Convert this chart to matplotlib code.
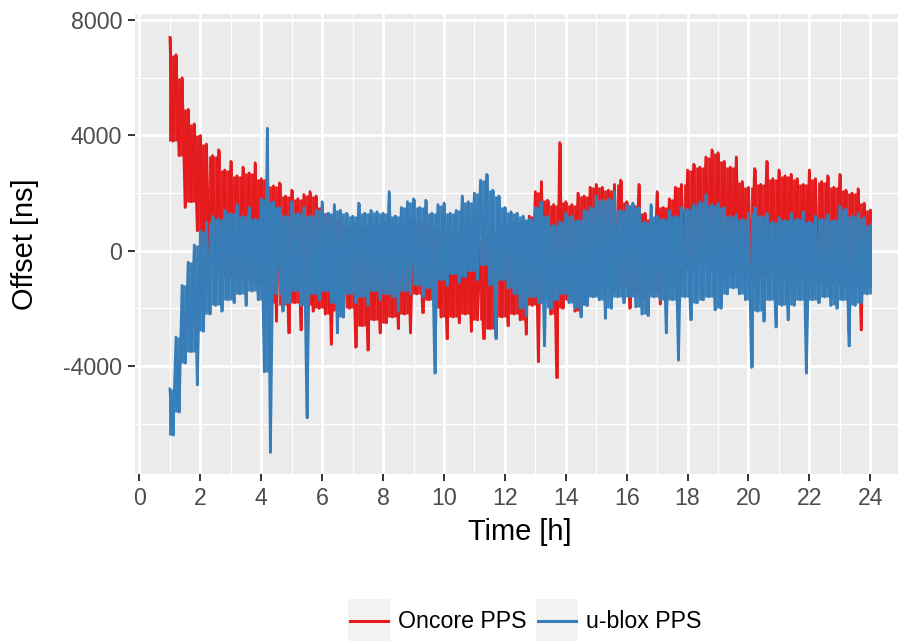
import numpy as np
import matplotlib
matplotlib.use("Agg")
import matplotlib.pyplot as plt
from matplotlib.patches import Rectangle

plt.rcParams["font.family"] = ["Liberation Sans", "DejaVu Sans"]
plt.rcParams["axes.unicode_minus"] = False
plt.rcParams["path.simplify"] = False

W, H = 898, 641

# Offsets in ns. Each receiver trace alternates between the local upper
# excursion (at 1.0, 1.2, ... 24.0 h) and the local lower excursion
# (at 1.1, 1.3, ... 23.9 h).
t_peak = np.round(np.arange(1.0, 24.01, 0.2), 1)
t_trough = np.round(t_peak[:-1] + 0.1, 1)

oncore_peak = [
    7400, 6800, 6000, 4900, 4400,   # 1 h
    4000, 3700, 3300, 3500, 2800,   # 2 h
    3100, 2600, 2900, 2700, 3050,   # 3 h
    2500, 2600, 2250, 2350, 1900,   # 4 h
    2100, 1800, 1950, 2050, 1900,   # 5 h
    1500, 1300, 1200, 1100, 900,    # 6 h
    1000, 1100, 900, 1000, 900,     # 7 h
    1100, 1000, 1200, 900, 1100,    # 8 h
    1200, 1000, 1100, 900, 800,     # 9 h
    700, 600, 500, 600, 400,        # 10 h
    500, 300, 500, 600, 800,        # 11 h
    900, 1000, 1100, 1000, 1200,    # 12 h
    2050, 2400, 1750, 1600, 3750,   # 13 h
    1700, 1600, 2000, 1900, 2200,   # 14 h
    2300, 2200, 2100, 2300, 2450,   # 15 h
    1700, 1600, 2300, 1300, 1100,   # 16 h
    2050, 1500, 1800, 2200, 2300,   # 17 h
    2800, 3000, 2900, 3250, 3500,   # 18 h
    3400, 3100, 2900, 3250, 2400,   # 19 h
    2200, 2850, 2300, 3100, 2500,   # 20 h
    2800, 2600, 2650, 2500, 2300,   # 21 h
    2800, 2500, 2400, 2600, 2200,   # 22 h
    2650, 2100, 2000, 2150, 1650,   # 23 h
    1400,
]
oncore_trough = [
    3800, 3300, 1500, 1700, 700,         # 1 h
    200, -500, -800, -900, -1000,        # 2 h
    -900, -1100, -1000, -1100, -1200,    # 3 h
    -1500, -1800, -2450, -1900, -2850,   # 4 h
    -1800, -2750, -1900, -2100, -2000,   # 5 h
    -2200, -3250, -2100, -2300, -2000,   # 6 h
    -3350, -2600, -3450, -2400, -2850,   # 7 h
    -2500, -2300, -2700, -2200, -2850,   # 8 h
    -1500, -2150, -1700, -2000, -2300,   # 9 h
    -3050, -2300, -2500, -2200, -2800,   # 10 h
    -2400, -3050, -2700, -2950, -2300,   # 11 h
    -2600, -2200, -2400, -2900, -1900,   # 12 h
    -3850, -1800, -2200, -4400, -2000,   # 13 h
    -1700, -2100, -2250, -1900, -1500,   # 14 h
    -1600, -1300, -1400, -1500, -1300,   # 15 h
    -2000, -1500, -1700, -2200, -1400,   # 16 h
    -1850, -1300, -1200, -1100, -700,    # 17 h
    -600, -800, -500, -1150, -700,       # 18 h
    -900, -1100, -800, -900, -700,       # 19 h
    -1000, -1700, -900, -1000, -800,     # 20 h
    -1000, -900, -1100, -1200, -1000,    # 21 h
    -900, -1100, -1300, -1600, -1200,    # 22 h
    -1300, -2850, -1200, -2750, -1300,   # 23 h
]

ublox_peak = [
    -4800, -3000, -1200, -400, 200,     # 1 h
    700, 1000, 1200, 1100, 1400,        # 2 h
    1300, 1600, 1200, 1500, 1100,       # 3 h
    1800, 4250, 1700, 1500, 1200,       # 4 h
    1700, 1300, 1500, 1200, 1400,       # 5 h
    1700, 1300, 1600, 1400, 1300,       # 6 h
    1200, 1650, 1300, 1400, 1350,       # 7 h
    1300, 2050, 1200, 1500, 1700,       # 8 h
    1800, 1500, 1750, 1300, 1600,       # 9 h
    1650, 1300, 1400, 1900, 1700,       # 10 h
    2000, 2450, 2650, 2100, 1900,       # 11 h
    1500, 1350, 1300, 1200, 1100,       # 12 h
    1500, 1700, 1200, 900, 1000,        # 13 h
    1300, 1200, 1050, 1400, 1500,       # 14 h
    1900, 1750, 1800, 2050, 1400,       # 15 h
    1600, 1650, 1500, 1000, 1600,       # 16 h
    1200, 1100, 1400, 1200, 1500,       # 17 h
    1450, 1600, 1700, 1950, 1600,       # 18 h
    1650, 1500, 1200, 1250, 1100,       # 19 h
    1300, 1500, 1200, 1300, 1000,       # 20 h
    1150, 1050, 1300, 1100, 1350,       # 21 h
    1000, 1200, 1100, 1250, 1050,       # 22 h
    1550, 1450, 1200, 1300, 1150,       # 23 h
    900,
]
ublox_trough = [
    -6400, -5600, -3900, -3500, -4650,   # 1 h
    -2800, -2200, -1900, -2100, -1700,   # 2 h
    -1800, -1500, -1900, -1400, -1700,   # 3 h
    -4200, -7000, -1500, -2100, -1800,   # 4 h
    -1400, -1900, -5800, -1500, -1700,   # 5 h
    -1400, -1800, -2850, -2300, -1500,   # 6 h
    -1800, -1600, -1900, -1400, -1700,   # 7 h
    -1500, -1600, -2100, -1400, -1500,   # 8 h
    -1200, -1600, -1300, -4250, -1000,   # 9 h
    -1200, -800, -1100, -900, -700,      # 10 h
    -1000, -500, -1200, -3050, -1000,    # 11 h
    -1300, -1500, -2000, -2250, -1600,   # 12 h
    -1800, -3300, -2000, -1700, -1500,   # 13 h
    -1800, -2000, -2300, -1900, -1600,   # 14 h
    -1700, -2350, -2000, -1600, -1800,   # 15 h
    -1600, -1950, -2200, -2250, -1600,   # 16 h
    -1700, -2850, -1700, -3800, -1600,   # 17 h
    -2400, -1800, -1700, -1600, -2050,   # 18 h
    -2000, -1500, -1300, -1500, -1700,   # 19 h
    -4050, -2100, -2450, -1700, -2650,   # 20 h
    -1900, -2400, -1900, -1700, -4250,   # 21 h
    -1700, -1800, -1600, -1900, -2000,   # 22 h
    -1700, -3300, -1900, -1800, -1500,   # 23 h
]

series_names = ["Oncore PPS", "u-blox PPS"]
series_colors = ["#E41A1C", "#377EB8"]


def interleave(peak, trough):
    out = np.empty(len(peak) + len(trough))
    out[0::2] = peak
    out[1::2] = trough
    return out


def span_ends(y):
    # every sample also gets a vertical stroke back towards its neighbours,
    # so the dense trace reads as a solid band like a min/max decimation
    left = np.r_[y[1], y[:-1]]
    right = np.r_[y[1:], y[-2]]
    ends = np.empty_like(y)
    ends[0::2] = np.maximum(left, right)[0::2]
    ends[1::2] = np.minimum(left, right)[1::2]
    return ends


t_all = interleave(t_peak, t_trough)
oncore = interleave(oncore_peak, oncore_trough)
ublox = interleave(ublox_peak, ublox_trough)

fig = plt.figure(figsize=(W / 100, H / 100), dpi=100)
ax = fig.add_axes([134.9 / W, 1 - 473.9 / H, (905.3 - 134.9) / W, (473.9 - 14.1) / H])
ax.set_facecolor("#EBEBEB")
for s in ax.spines.values():
    s.set_visible(False)

for k, (y, colour) in enumerate(zip([oncore, ublox], series_colors)):
    ax.vlines(t_all, y, span_ends(y), color=colour, lw=2.0, zorder=3 + k)
    ax.plot(t_all, y, color=colour, lw=2.0, zorder=3 + k)

ax.set_xlim(-0.15, 25.15)
ax.set_ylim(-7745, 8210)
ax.set_xticks(np.arange(0, 25, 2))
ax.set_xticks(np.arange(1, 25, 2), minor=True)
ax.set_yticks([-4000, 0, 4000, 8000])
ax.set_yticks([-6000, -2000, 2000, 6000], minor=True)
ax.grid(which="major", color="white", lw=1.95)
ax.grid(which="minor", color="white", lw=0.95)
ax.set_axisbelow(True)
ax.tick_params(which="major", length=5, width=1.4, color="#333333",
               labelsize=16.7, labelcolor="#4D4D4D", pad=4.2)
ax.tick_params(which="minor", length=0)

fig.text(520 / W, 1 - 532 / H, "Time [h]", fontsize=20.9, ha="center", va="center")
fig.text(25 / W, 1 - 244 / H, "Offset [ns]", fontsize=20.9, rotation=90,
         ha="center", va="center")

# legend strip along the bottom
lax = fig.add_axes([0, 0, 1, 1], facecolor="none")
lax.set_xlim(0, W)
lax.set_ylim(H, 0)
lax.axis("off")
for x0, colour, name in zip([348, 536], series_colors, series_names):
    lax.add_patch(Rectangle((x0, 599), 42, 44, color="#F2F2F2", lw=0))
    lax.plot([x0 + 2, x0 + 40], [621, 621], color=colour, lw=2.2)
    lax.text(x0 + 50, 621, name, fontsize=16.7, ha="left", va="center")

fig.savefig("out.png", dpi=100)
